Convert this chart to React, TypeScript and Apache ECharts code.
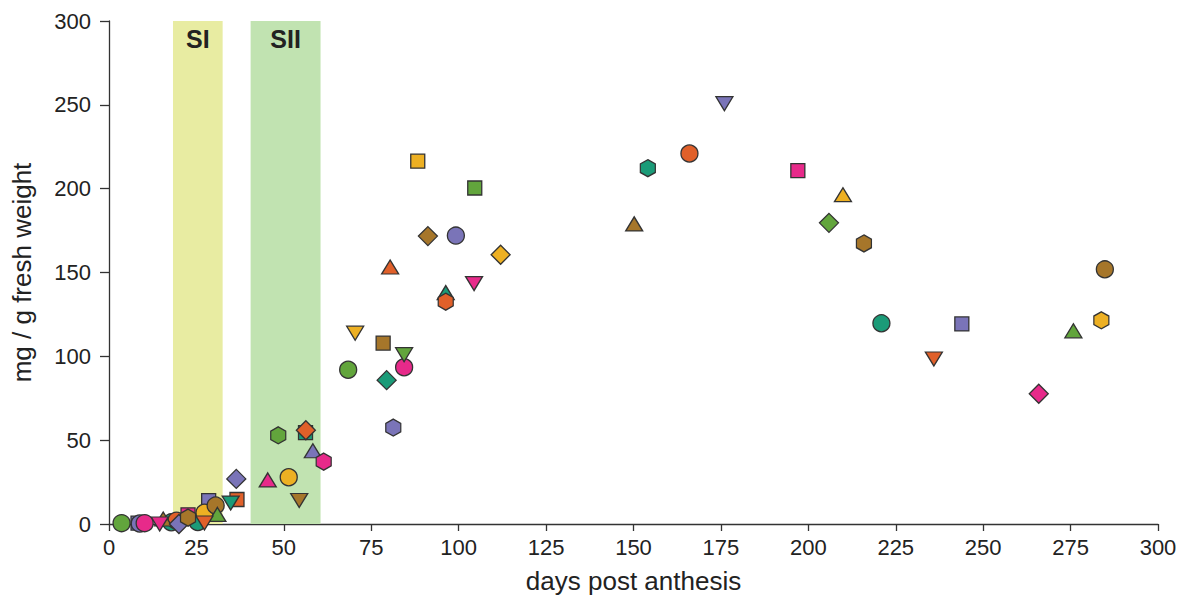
import React, { useEffect, useRef } from "react";
import * as echarts from "echarts";

// [day, mg/g, colour key]
const squares: [number, number, string][] = [
  [8.3, 0.5, "purple"], [22.6, 5.5, "pink"], [28.5, 14, "purple"], [36.6, 14.6, "orange"],
  [56.2, 54.5, "teal"], [78.4, 107.9, "brown"], [88.3, 216.4, "yellow"], [104.6, 200.4, "green"],
  [197, 210.8, "pink"], [243.9, 119.3, "purple"],
];
const circles: [number, number, string][] = [
  [3.6, 0.5, "green"], [8.8, 0.3, "purple"], [10.2, 0.5, "pink"], [17.8, 1, "teal"],
  [19.3, 2, "orange"], [25.4, 1.2, "teal"], [27.3, 6.7, "yellow"], [30.5, 11, "brown"],
  [51.4, 27.9, "yellow"], [68.4, 92, "green"], [84.4, 93.5, "pink"], [99.2, 172, "purple"],
  [166, 221, "orange"], [220.9, 119.7, "teal"], [284.8, 151.9, "brown"],
];
const trianglesUp: [number, number, string][] = [
  [15.5, 3, "brown"], [31, 5.7, "green"], [45.4, 26.3, "pink"], [58.3, 43.7, "purple"],
  [80.4, 153.3, "orange"], [96.3, 138, "teal"], [150.2, 179, "brown"], [209.9, 196.4, "yellow"],
  [275.8, 115.2, "green"],
];
const trianglesDown: [number, number, string][] = [
  [14.5, 0, "pink"], [27.3, 0.6, "orange"], [34.8, 12.5, "teal"], [54.4, 14, "brown"],
  [70.4, 113.8, "yellow"], [84.4, 101, "green"], [104.4, 143.4, "pink"], [176, 250.7, "purple"],
  [235.9, 98.4, "orange"],
];
const diamonds: [number, number, string][] = [
  [20, 0, "purple"], [36.4, 26.9, "purple"], [56.3, 55.9, "orange"], [79.4, 85.8, "teal"],
  [91.2, 171.7, "brown"], [112, 160.6, "yellow"], [205.9, 179.6, "green"], [265.9, 77.7, "pink"],
];
const hexagons: [number, number, string][] = [
  [22.6, 3.8, "brown"], [48.4, 52.9, "green"], [61.4, 37.2, "pink"], [81.3, 57.5, "purple"],
  [96.3, 132.6, "orange"], [154.1, 212.2, "teal"], [215.9, 167.3, "brown"], [283.8, 121.5, "yellow"],
];
const stages: [string, number, number][] = [
  ["SI", 18.3, 32.5],
  ["SII", 40.5, 60.5],
];
const xTicksMax = 300;
const yTicksMax = 300;

const palette: Record<string, string> = {
  teal: "#1b9b78",
  orange: "#e0602a",
  purple: "#7a74b8",
  pink: "#e72a8a",
  green: "#62a53c",
  yellow: "#edb023",
  brown: "#a6762a",
};
const stageColors = ["#e8eca2", "#c1e3b1"];

const HEX = "path://M0.433 0 L0.866 0.25 L0.866 0.75 L0.433 1 L0 0.75 L0 0.25 Z";

export default function App() {
  const ref = useRef<HTMLDivElement>(null);
  useEffect(() => {
    if (!ref.current) return;
    const chart = echarts.init(ref.current, null, { renderer: "svg" });
    const mk = (
      name: string,
      pts: [number, number, string][],
      symbol: string,
      size: number | number[],
      rotate = 0
    ) => ({
      name,
      type: "scatter",
      z: 3,
      symbol,
      symbolSize: size,
      symbolRotate: rotate,
      data: pts.map((p) => ({
        value: [p[0], p[1]],
        itemStyle: { color: palette[p[2]] },
      })),
      itemStyle: { borderColor: "#333", borderWidth: 1.3, opacity: 1 },
    });
    chart.setOption({
      animation: false,
      textStyle: { fontFamily: "Liberation Sans" },
      grid: { left: 109, top: 21, right: 23, bottom: 72 },
      xAxis: {
        type: "value",
        min: 0,
        max: xTicksMax,
        interval: 25,
        name: "days post anthesis",
        nameLocation: "middle",
        nameGap: 44,
        nameTextStyle: { fontSize: 26, color: "#222" },
        axisLine: { show: true, lineStyle: { color: "#333", width: 1.3 } },
        axisTick: { show: true, length: 7, lineStyle: { color: "#333", width: 1.3 } },
        axisLabel: { fontSize: 22, color: "#222", margin: 12 },
        splitLine: { show: false },
      },
      yAxis: {
        type: "value",
        min: 0,
        max: yTicksMax,
        interval: 50,
        name: "mg / g fresh weight",
        nameLocation: "middle",
        nameGap: 74,
        nameRotate: 90,
        nameTextStyle: { fontSize: 26, color: "#222" },
        axisLine: { show: true, lineStyle: { color: "#333", width: 1.3 } },
        axisTick: { show: true, length: 9, lineStyle: { color: "#333", width: 1.3 } },
        axisLabel: { fontSize: 22, color: "#222", margin: 18 },
        splitLine: { show: false },
      },
      series: [
        {
          type: "scatter",
          z: 1,
          data: [],
          markArea: {
            silent: true,
            label: {
              position: "insideTop",
              distance: 5,
              fontSize: 25,
              fontWeight: "bold",
              color: "#222",
              fontFamily: "Liberation Sans",
            },
            data: stages.map((s, i) => [
              { name: s[0], xAxis: s[1], itemStyle: { color: stageColors[i], opacity: 1 } },
              { xAxis: s[2] },
            ]),
          },
        },
        mk("squares", squares, "rect", 14),
        mk("circles", circles, "circle", 17),
        mk("up", trianglesUp, "triangle", [17, 14]),
        mk("down", trianglesDown, "triangle", [17, 14], 180),
        mk("diamonds", diamonds, "diamond", [19, 19]),
        mk("hexagons", hexagons, HEX, [15, 17]),
      ],
    });
    return () => chart.dispose();
  }, []);
  return (
    <div
      ref={ref}
      style={{ position: "absolute", left: 0, top: 0, width: 1181, height: 599, background: "#fff" }}
    />
  );
}
